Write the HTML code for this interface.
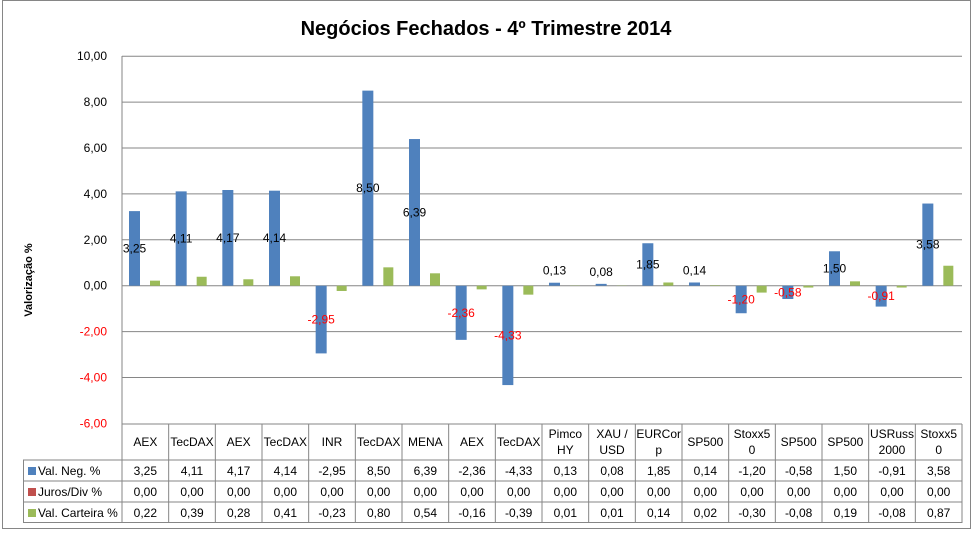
<!DOCTYPE html>
<html><head><meta charset="utf-8"><style>
body{margin:0;background:#fff}
svg text{font-family:"Liberation Sans",sans-serif}
</style></head><body>
<svg id="s" width="973" height="531" xmlns="http://www.w3.org/2000/svg"></svg>
<script>
const cats=["AEX","TecDAX","AEX","TecDAX","INR","TecDAX","MENA","AEX","TecDAX",["Pimco","HY"],["XAU /","USD"],["EURCor","p"],"SP500",["Stoxx5","0"],"SP500","SP500",["USRuss","2000"],["Stoxx5","0"]];
const A=[3.25,4.11,4.17,4.14,-2.95,8.50,6.39,-2.36,-4.33,0.13,0.08,1.85,0.14,-1.20,-0.58,1.50,-0.91,3.58];
const C=[0.22,0.39,0.28,0.41,-0.23,0.80,0.54,-0.16,-0.39,0.01,0.01,0.14,0.02,-0.30,-0.08,0.19,-0.08,0.87];
const f=v=>v.toFixed(2).replace('.',',');
const L=122,R=962,W=(R-L)/18,Y0=285.7,K=22.95;
const y=v=>Y0-v*K;
let s='<rect x="2.5" y="0.5" width="968" height="528" fill="#fff" stroke="#868686"/>';
s+='<text x="486" y="35" font-size="20" font-weight="bold" text-anchor="middle" fill="#000">Negócios Fechados - 4º Trimestre 2014</text>';
for(let v=10;v>=-6;v-=2){const yy=y(v);
 if(v>-6) s+=`<line x1="${L}" x2="${R}" y1="${yy}" y2="${yy}" stroke="#868686"/>`;
 s+=`<text x="107" y="${yy+4}" font-size="12" text-anchor="end" fill="${v<0?'#f00':'#000'}">${f(v)}</text>`;}
s+=`<line x1="${L}" x2="${L}" y1="56" y2="523" stroke="#868686"/>`;
s+='<text transform="translate(32,280) rotate(-90)" font-size="11" font-weight="bold" text-anchor="middle">Valorização %</text>';
for(let i=0;i<18;i++){const x0=L+i*W;
 const a=A[i],c=C[i];
 s+=`<rect x="${x0+7}" y="${Math.min(y(a),Y0)}" width="11" height="${Math.abs(a)*K}" fill="#4f81bd"/>`;
 s+=`<rect x="${x0+28}" y="${Math.min(y(c),Y0)}" width="10" height="${Math.abs(c)*K}" fill="#9bbb59"/>`;
 const ly=Math.abs(a)<0.5?y(a)-8:y(a/2)+4;
 s+=`<text x="${x0+12.5}" y="${ly}" font-size="12" text-anchor="middle" fill="${a<0?'#f00':'#000'}">${f(a)}</text>`;
}
const T=[424,460,481,502,523];
s+=`<line x1="${L}" x2="${R}" y1="424" y2="424" stroke="#868686"/>`;
s+=`<line x1="23" x2="${R}" y1="460" y2="460" stroke="#868686"/>`;
s+=`<line x1="23" x2="${R}" y1="481" y2="481" stroke="#868686"/>`;
s+=`<line x1="23" x2="${R}" y1="502" y2="502" stroke="#868686"/>`;
s+=`<line x1="23" x2="${R}" y1="522.5" y2="522.5" stroke="#868686"/>`;
s+=`<line x1="23.5" x2="23.5" y1="460" y2="523" stroke="#868686"/>`;
for(let i=0;i<=18;i++){const x=L+i*W;s+=`<line x1="${x}" x2="${x}" y1="424" y2="523" stroke="#868686"/>`;}
for(let i=0;i<18;i++){const cx=L+i*W+W/2;const c=cats[i];
 if(Array.isArray(c)){s+=`<text x="${cx}" y="438" font-size="12" text-anchor="middle" textLength="" >${c[0]}</text><text x="${cx}" y="454" font-size="12" text-anchor="middle">${c[1]}</text>`;}
 else s+=`<text x="${cx}" y="446" font-size="12" text-anchor="middle">${c}</text>`;
 s+=`<text x="${cx}" y="475" font-size="12" text-anchor="middle">${f(A[i])}</text>`;
 s+=`<text x="${cx}" y="496" font-size="12" text-anchor="middle">0,00</text>`;
 s+=`<text x="${cx}" y="517" font-size="12" text-anchor="middle">${f(C[i])}</text>`;
}
const leg=[["#4f81bd","Val. Neg. %"],["#c0504d","Juros/Div %"],["#9bbb59","Val. Carteira %"]];
leg.forEach((l,j)=>{const yy=T[1]+j*21;
 s+=`<rect x="28" y="${yy+7}" width="8" height="8" fill="${l[0]}"/><text x="38" y="${yy+15}" font-size="12">${l[1]}</text>`;});
document.getElementById('s').innerHTML=s;
</script>
</body></html>
